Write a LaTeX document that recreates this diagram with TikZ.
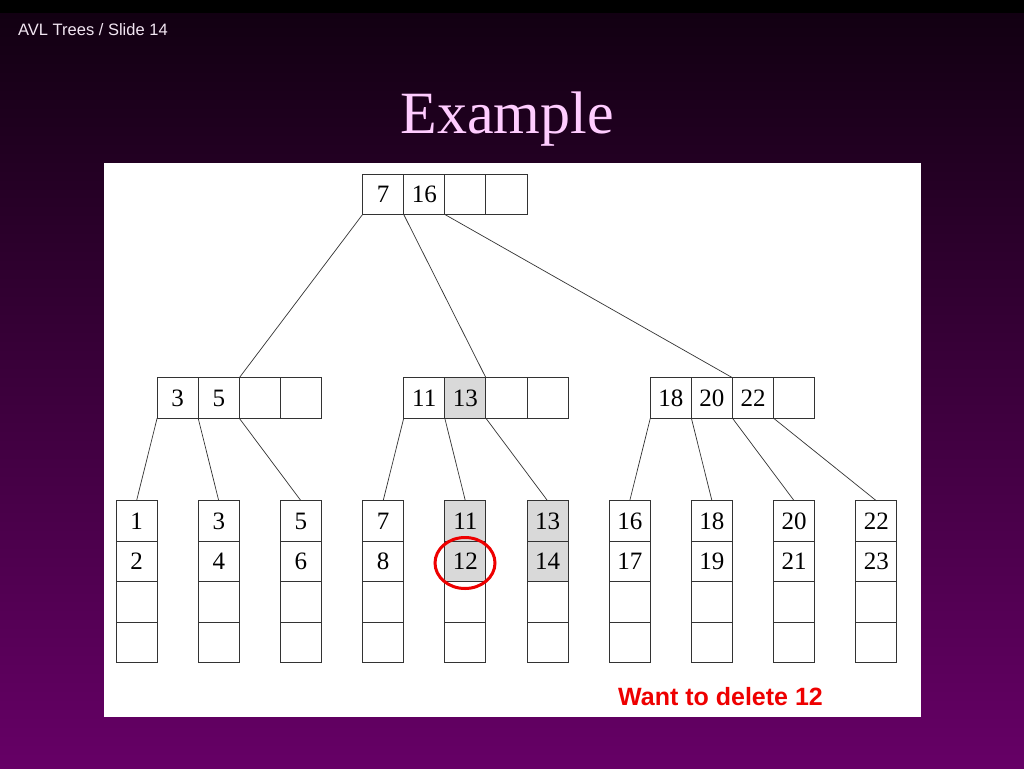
\documentclass[tikz,border=0pt]{standalone}
\usepackage{fontspec}
\setmainfont{Liberation Serif}
\newfontfamily\arialf{Liberation Sans}
\definecolor{bgtop}{HTML}{120012}
\definecolor{bgbot}{HTML}{660066}
\definecolor{linecol}{HTML}{333333}
\definecolor{shadecol}{HTML}{D9D9D9}
\definecolor{titlecol}{HTML}{FFCCFF}
\definecolor{headcol}{HTML}{F2E6F2}
\definecolor{alertred}{HTML}{EE0000}
\tikzset{
  cell/.style={draw=linecol, line width=0.9pt, minimum width=41.1pt, minimum height=40.5pt,
    inner sep=0pt, outer sep=0pt, font=\fontsize{25}{25}\selectfont},
  hicell/.style={cell, fill=shadecol},
  conn/.style={draw=linecol, line width=0.7pt},
}
\begin{document}
\begin{tikzpicture}[x=1pt,y=-1pt]
\useasboundingbox (0,0) rectangle (1024,768);
\fill[black] (0,0) rectangle (1024,14);
\shade[top color=bgtop, bottom color=bgbot] (0,14) rectangle (1024,768);
\node[anchor=base west, text=headcol, font=\arialf\fontsize{16.5}{16.5}\selectfont, inner sep=0pt] (hdr) at (18,36) {AVL Trees / Slide 14};
\node[anchor=base, text=titlecol, font=\fontsize{60}{60}\selectfont, inner sep=0pt] (title) at (507,133) {Example};
\fill[white] (104,163) rectangle (921,717);
% root
\foreach \t [count=\i] in {7,16,{},{}}
  \node[cell] (r\i) at ({116+41.1*(5+\i)+20.55}, 194.2) {\t};
% middle level
\foreach \t [count=\i] in {3,5,{},{}}
  \node[cell] (a\i) at ({116+41.1*(\i)+20.55}, 398) {\t};
\node[cell] (b1) at ({116+41.1*7+20.55}, 398) {11};
\node[hicell] (b2) at ({116+41.1*8+20.55}, 398) {13};
\node[cell] (b3) at ({116+41.1*9+20.55}, 398) {};
\node[cell] (b4) at ({116+41.1*10+20.55}, 398) {};
\foreach \t [count=\i] in {18,20,22,{}}
  \node[cell] (c\i) at ({116+41.1*(12+\i)+20.55}, 398) {\t};
% leaves
\foreach \p/\q [count=\j] in {1/2,3/4,5/6,7/8,11/12,13/14,16/17,18/19,20/21,22/23}{
  \pgfmathsetmacro{\lx}{116+41.1*2*(\j-1)+20.55}
  \ifnum\j=5 \def\st{hicell}\else\ifnum\j=6 \def\st{hicell}\else\def\st{cell}\fi\fi
  \node[\st] (l\j c1) at (\lx, 521) {\p};
  \node[\st] (l\j c2) at (\lx, 561.5) {\q};
  \node[cell] (l\j c3) at (\lx, 602) {};
  \node[cell] (l\j c4) at (\lx, 642.5) {};
}
% connectors root -> middle
\draw[conn] (r1.south west) -- (a2.north east);
\draw[conn] (r2.south west) -- (b2.north east);
\draw[conn] (r3.south west) -- (c2.north east);
% middle -> leaves
\draw[conn] (a1.south west) -- (l1c1.north);
\draw[conn] (a2.south west) -- (l2c1.north);
\draw[conn] (a3.south west) -- (l3c1.north);
\draw[conn] (b1.south west) -- (l4c1.north);
\draw[conn] (b2.south west) -- (l5c1.north);
\draw[conn] (b3.south west) -- (l6c1.north);
\draw[conn] (c1.south west) -- (l7c1.north);
\draw[conn] (c2.south west) -- (l8c1.north);
\draw[conn] (c3.south west) -- (l9c1.north);
\draw[conn] (c4.south west) -- (l10c1.north);
% highlight
\draw[alertred, line width=3pt] (465,563) ellipse [x radius=30, y radius=25.5];
\node[anchor=base, text=alertred, font=\arialf\bfseries\fontsize{25}{25}\selectfont, inner sep=0pt] (note) at (720.5,705) {Want to delete 12};
\end{tikzpicture}
\end{document}
